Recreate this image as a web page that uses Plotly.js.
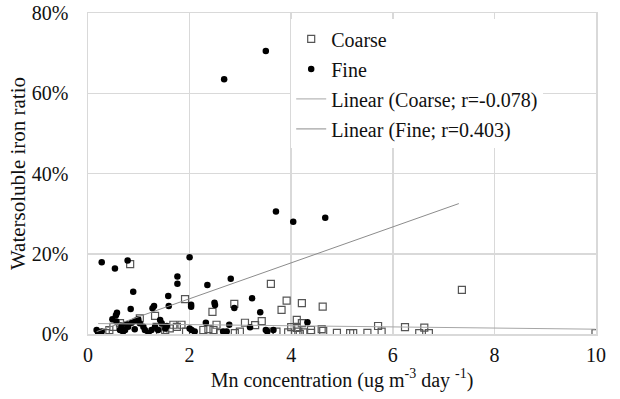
<!DOCTYPE html>
<html>
<head>
<meta charset="utf-8">
<script src="https://cdn.plot.ly/plotly-3.0.1.min.js"></script>
<style>html,body{margin:0;padding:0;background:#fff;}#chart{width:620px;height:399px;}</style>
</head>
<body>
<div id="chart"></div>
<script>
// Coarse particles: Mn concentration (ug m-3 day-1) vs water-soluble iron ratio (%)
const coarseX = [0.83,1.91,2.88,2.45,3.60,1.32,1.02,0.50,0.35,0.63,1.84,1.75,1.61,1.52,1.93,1.35,1.42,1.68,2.27,2.37,2.47,2.53,2.60,2.89,2.99,3.09,3.29,3.42,3.58,3.71,3.91,4.21,3.81,4.62,4.11,4.21,4.00,4.11,3.94,4.14,4.17,4.24,4.39,4.39,4.60,4.63,4.90,5.16,5.22,5.50,5.71,5.78,6.24,6.62,6.52,6.71,7.36,9.99,0.42];
const coarseY = [17.4,8.7,7.5,5.5,12.5,4.5,3.9,1.8,0.2,2.7,2.3,1.8,1.4,1.0,0.6,1.8,0.2,2.3,1.0,1.2,1.0,2.3,0.2,0.2,0.6,2.8,2.2,3.2,0.6,0.6,8.3,7.7,6.0,6.8,3.5,2.7,1.7,1.5,0.4,0.6,0.0,0.4,1.0,0.3,1.2,0.8,0.3,0.2,0.2,0.3,2.0,0.6,1.7,1.6,0.2,0.2,11.0,0.2,1.0];

// Fine particles
const fineX = [3.50,2.68,3.70,4.04,4.67,2.00,0.27,0.53,0.78,1.76,1.76,0.89,1.58,2.35,2.81,3.23,2.49,2.50,2.88,3.39,1.30,1.27,1.59,0.84,2.03,2.03,0.57,0.55,0.48,0.56,2.32,2.78,3.19,0.17,0.20,0.27,0.66,0.73,0.79,0.86,0.93,0.99,1.02,1.09,1.12,1.19,1.25,1.32,1.38,1.45,1.52,1.42,0.69,0.63,2.00,2.04,2.10,2.66,2.73,3.50,3.53,3.65,4.32,0.92,1.55,0.76];
const fineY = [70.5,63.5,30.5,28.0,29.0,19.1,17.9,16.3,18.3,14.3,12.5,10.5,9.5,12.2,13.8,8.9,7.8,7.2,6.5,5.4,7.0,6.4,7.0,6.2,7.3,6.8,5.3,4.7,3.7,3.1,2.8,2.3,1.7,1.0,0.3,0.6,2.2,1.0,1.8,2.8,3.3,3.7,2.7,1.8,1.0,0.2,1.0,1.8,1.0,2.7,1.4,3.5,0.6,1.0,1.4,1.0,0.6,0.6,0.6,1.0,0.6,1.0,2.9,1.2,2.0,2.4];

// Linear trend lines (end points as drawn)
const coarseTrendX = [0.20, 9.99];
const coarseTrendY = [2.6, 1.2];
const fineTrendX = [0.17, 7.30];
const fineTrendY = [0.6, 32.5];

const seriesNames = ['Coarse', 'Fine', 'Linear (Coarse; r=-0.078)', 'Linear (Fine; r=0.403)'];
const xTicks = [0, 2, 4, 6, 8, 10];
const yTicks = [0, 20, 40, 60, 80];

const FONT = 'Liberation Serif';
const TXT = '#111111';

const traces = [
  {x: coarseX, y: coarseY, name: seriesNames[0], type: 'scatter', mode: 'markers', legendgroup: 'a',
   marker: {symbol: 'square-open', size: 7, color: '#555555', line: {width: 1.2, color: '#555555'}}},
  {x: fineX, y: fineY, name: seriesNames[1], type: 'scatter', mode: 'markers', legendgroup: 'b',
   marker: {symbol: 'circle', size: 6.5, color: '#000000'}},
  {x: coarseTrendX, y: coarseTrendY, name: seriesNames[2], type: 'scatter', mode: 'lines', legendgroup: 'c',
   line: {color: '#a6a6a6', width: 1}},
  {x: fineTrendX, y: fineTrendY, name: seriesNames[3], type: 'scatter', mode: 'lines', legendgroup: 'd',
   line: {color: '#8c8c8c', width: 1}}
];

const layout = {
  width: 620, height: 399,
  margin: {l: 88, r: 24, t: 13, b: 65},
  paper_bgcolor: '#ffffff', plot_bgcolor: '#ffffff',
  font: {family: FONT, size: 20, color: TXT},
  showlegend: true,
  legend: {x: 0.40, y: 0.98, xanchor: 'left', yanchor: 'top', bgcolor: '#ffffff',
           font: {family: FONT, size: 20, color: TXT}, tracegroupgap: 1, itemwidth: 30},
  xaxis: {range: [0, 10], tickvals: xTicks, ticktext: xTicks.map(String),
          tickfont: {family: FONT, size: 20, color: TXT},
          showgrid: true, gridcolor: '#d9d9d9', gridwidth: 1.5, zeroline: false,
          showline: true, linecolor: '#d9d9d9', linewidth: 1.5, mirror: true,
          ticks: 'outside', ticklen: 2, tickcolor: 'rgba(0,0,0,0)',
          title: {text: 'Mn concentration (ug m<sup>-3</sup> day <sup>-1</sup>)', font: {family: FONT, size: 20, color: TXT}, standoff: 8}},
  yaxis: {range: [0, 80], tickvals: yTicks, ticktext: yTicks.map(v => v + '%'),
          tickfont: {family: FONT, size: 20, color: TXT},
          showgrid: true, gridcolor: '#d9d9d9', gridwidth: 1.5, zeroline: false,
          showline: true, linecolor: '#d9d9d9', linewidth: 1.5, mirror: true,
          ticks: 'outside', ticklen: 14, tickcolor: 'rgba(0,0,0,0)',
          title: {text: 'Watersoluble iron ratio', font: {family: FONT, size: 21, color: TXT}, standoff: 0}}
};

Plotly.newPlot('chart', traces, layout, {displayModeBar: false, staticPlot: true});
</script>
</body>
</html>
